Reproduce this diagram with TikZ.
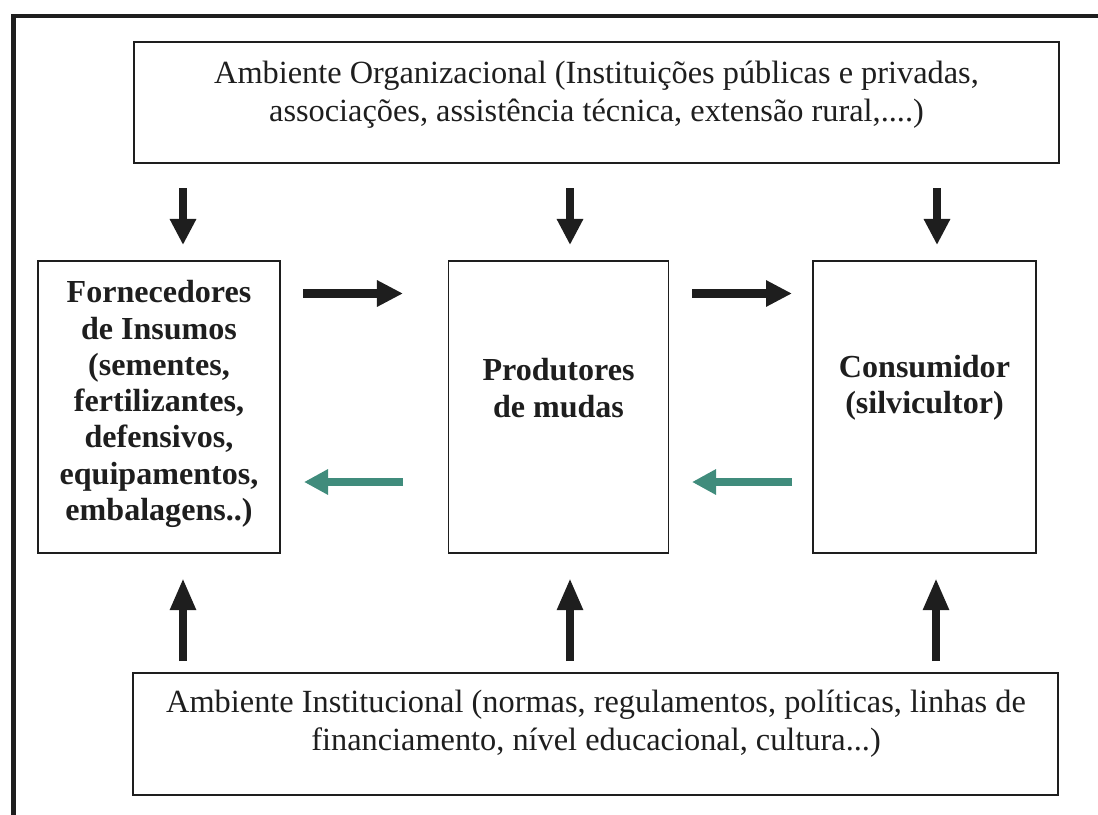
\documentclass[tikz,border=0pt]{standalone}
\usepackage{fontspec}
\setmainfont{Liberation Serif}
\usetikzlibrary{arrows.meta}
\definecolor{tealarrow}{RGB}{64,140,124}
\definecolor{ink}{RGB}{30,30,30}
\begin{document}
\begin{tikzpicture}[x=0.025cm,y=-0.025cm,
  box/.style={draw=ink,line width=1.2pt,inner sep=0pt},
  envtext/.style={align=center,inner sep=0pt,text=ink,font=\fontsize{23}{27}\selectfont},
  actortext/.style={align=center,inner sep=0pt,text=ink,font=\fontsize{22.8}{25.8}\selectfont\bfseries},
  blackarrow/.style={draw=ink,line width=0.215cm,-{Triangle[length=0.65cm,width=0.62cm]}},
  greenarrow/.style={draw=tealarrow,line width=0.215cm,-{Triangle[length=0.6cm,width=0.6cm]}},
  uparrow/.style={draw=ink,line width=0.215cm,-{Triangle[length=0.8cm,width=0.6cm]}}]
\useasboundingbox (0,0) rectangle (1098,815);
% outer frame (cut off at right and bottom)
\draw[draw=ink,line width=0.1cm] (13.5,815) -- (13.5,16) -- (1098,16);
% boxes
\node[box,minimum width=23.125cm,minimum height=3.025cm] (org) at (596.5,102.5) {};
\node[box,minimum width=23.125cm,minimum height=3.05cm] (inst) at (595.5,734) {};
\node[box,minimum width=6.05cm,minimum height=7.3cm] (forn) at (159,407) {};
\node[box,minimum width=5.5cm,minimum height=7.3cm] (prod) at (558.5,407) {};
\node[box,minimum width=5.575cm,minimum height=7.3cm] (cons) at (924.5,407) {};
% texts
\node[envtext] (orgtext) at (596.5,94.5) {Ambiente Organizacional (Instituições públicas e privadas,\\associações, assistência técnica, extensão rural,....)};
\node[envtext] (insttext) at (596,723.5) {Ambiente Institucional (normas, regulamentos, políticas, linhas de\\financiamento, nível educacional, cultura...)};
\node[actortext] (forntext) at (159,404) {Fornecedores\\de Insumos\\(sementes,\\fertilizantes,\\defensivos,\\equipamentos,\\embalagens..)};
\node[actortext] (prodtext) at (558.5,388) {Produtores\\de mudas};
\node[actortext] (constext) at (924.5,388) {Consumidor\\(silvicultor)};
% arrow end points
\coordinate (d1s) at (183,188); \coordinate (d1e) at (183,245);
\coordinate (d2s) at (570,188); \coordinate (d2e) at (570,245);
\coordinate (d3s) at (937,188); \coordinate (d3e) at (937,245);
\coordinate (r1s) at (303,293.5); \coordinate (r1e) at (403,293.5);
\coordinate (r2s) at (692,293.5); \coordinate (r2e) at (792,293.5);
\coordinate (g1s) at (403,482); \coordinate (g1e) at (304,482);
\coordinate (g2s) at (792,482); \coordinate (g2e) at (692,482);
\coordinate (u1s) at (183,661); \coordinate (u1e) at (183,578);
\coordinate (u2s) at (570,661); \coordinate (u2e) at (570,578);
\coordinate (u3s) at (936,661); \coordinate (u3e) at (936,578);
% arrows
\draw[blackarrow] (d1s) -- (d1e);
\draw[blackarrow] (d2s) -- (d2e);
\draw[blackarrow] (d3s) -- (d3e);
\draw[blackarrow] (r1s) -- (r1e);
\draw[blackarrow] (r2s) -- (r2e);
\draw[greenarrow] (g1s) -- (g1e);
\draw[greenarrow] (g2s) -- (g2e);
\draw[uparrow] (u1s) -- (u1e);
\draw[uparrow] (u2s) -- (u2e);
\draw[uparrow] (u3s) -- (u3e);
\end{tikzpicture}
\end{document}
